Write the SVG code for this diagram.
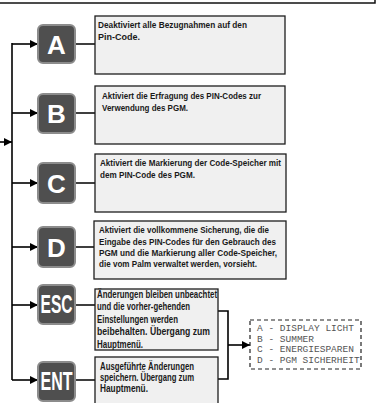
<svg xmlns="http://www.w3.org/2000/svg" width="382" height="403" viewBox="0 0 382 403">
<style>
.btn rect{fill:#4f4f4f;stroke:#8c8c8c;stroke-width:2}
.btn text{fill:#fff;font-family:"Liberation Sans",Arial,sans-serif;font-weight:bold;font-size:26px;text-anchor:middle}
.box rect{fill:#f0f0f0;stroke:#1e1e1e;stroke-width:1.3}
.box text{fill:#1a1a1a;font-family:"Liberation Sans",Arial,sans-serif;font-weight:bold;font-size:9.8px}
.big text{font-size:10.5px}
.con{fill:none;stroke:#000;stroke-width:1.6}
.mono{fill:#555;font-family:"Liberation Mono","Courier New",monospace;font-size:9.5px}
</style>
<defs>
<marker id="ah" viewBox="0 0 10 10" refX="10" refY="5" markerWidth="10" markerHeight="8" markerUnits="userSpaceOnUse" orient="auto">
<path d="M0,0 L10,5 L0,10 z" fill="#000"/>
</marker>
</defs>
<rect x="-2" y="-10" width="377" height="13" fill="none" stroke="#111" stroke-width="1.5"/>
<g id="connectors">
<path class="con" d="M12,43 V380"/>
<path class="con" d="M-2,142 H12" marker-end="url(#ah)"/>
<path class="con" d="M12,44 H38" marker-end="url(#ah)"/>
<path class="con" d="M12,113 H38" marker-end="url(#ah)"/>
<path class="con" d="M12,183 H38" marker-end="url(#ah)"/>
<path class="con" d="M12,247 H38" marker-end="url(#ah)"/>
<path class="con" d="M12,305 H38" marker-end="url(#ah)"/>
<path class="con" d="M12,380 H38" marker-end="url(#ah)"/>
<path class="con" d="M75,44 H95 M75,113 H95 M75,183 H95 M75,247 H95 M75,305 H95 M75,380 H95"/>
<path class="con" d="M218,311 H228 V379 H218"/>
<path class="con" d="M228,345 H250" marker-end="url(#ah)"/>
</g>
<g id="btnA" class="btn"><rect x="38" y="25" width="37" height="38" rx="5"/><text x="56.5" y="53.5">A</text></g>
<g id="btnB" class="btn"><rect x="38" y="94" width="37" height="39" rx="5"/><text x="56.5" y="123">B</text></g>
<g id="btnC" class="btn"><rect x="38" y="163" width="37" height="40" rx="5"/><text x="56.5" y="192.5">C</text></g>
<g id="btnD" class="btn"><rect x="38" y="227" width="37" height="40" rx="5"/><text x="56.5" y="256.5">D</text></g>
<g id="btnESC" class="btn"><rect x="38" y="285" width="37" height="39" rx="5"/><text x="56.5" y="313" font-size="22" textLength="32" lengthAdjust="spacingAndGlyphs">ESC</text></g>
<g id="btnENT" class="btn"><rect x="38" y="362" width="37" height="39" rx="5"/><text x="56.5" y="390" font-size="22" textLength="32" lengthAdjust="spacingAndGlyphs">ENT</text></g>
<g id="boxA" class="box"><rect x="95" y="16" width="190" height="58"/>
<text x="98" y="28" textLength="149" lengthAdjust="spacingAndGlyphs">Deaktiviert alle Bezugnahmen auf den</text>
<text x="98" y="40" textLength="42" lengthAdjust="spacingAndGlyphs">Pin-Code.</text></g>
<g id="boxB" class="box"><rect x="95" y="86" width="190" height="58"/>
<text x="102" y="99" textLength="159" lengthAdjust="spacingAndGlyphs">Aktiviert die Erfragung des PIN-Codes zur</text>
<text x="102" y="110.5" textLength="86" lengthAdjust="spacingAndGlyphs">Verwendung des PGM.</text></g>
<g id="boxC" class="box"><rect x="95" y="154" width="191" height="58"/>
<text x="100" y="166" textLength="181" lengthAdjust="spacingAndGlyphs">Aktiviert die Markierung der Code-Speicher mit</text>
<text x="100" y="177.5" textLength="95" lengthAdjust="spacingAndGlyphs">dem PIN-Code des PGM.</text></g>
<g id="boxD" class="box"><rect x="94" y="221" width="192" height="58"/>
<text x="99" y="233" textLength="170" lengthAdjust="spacingAndGlyphs">Aktiviert die vollkommene Sicherung, die die</text>
<text x="99" y="244.5" textLength="177" lengthAdjust="spacingAndGlyphs">Eingabe des PIN-Codes für den Gebrauch des</text>
<text x="99" y="256" textLength="178" lengthAdjust="spacingAndGlyphs">PGM und die Markierung aller Code-Speicher,</text>
<text x="99" y="267" textLength="158" lengthAdjust="spacingAndGlyphs">die vom Palm verwaltet werden, vorsieht.</text></g>
<g id="boxESC" class="box big"><rect x="95" y="289" width="123" height="61"/>
<text x="97" y="297.5" textLength="120" lengthAdjust="spacingAndGlyphs">Änderungen bleiben unbeachtet</text>
<text x="97" y="310" textLength="93" lengthAdjust="spacingAndGlyphs">und die vorher-gehenden</text>
<text x="97" y="322.5" textLength="81" lengthAdjust="spacingAndGlyphs">Einstellungen werden</text>
<text x="97" y="335" textLength="113" lengthAdjust="spacingAndGlyphs">beibehalten. Übergang zum</text>
<text x="97" y="347.5" textLength="46" lengthAdjust="spacingAndGlyphs">Hauptmenü.</text></g>
<g id="boxENT" class="box big"><rect x="95" y="357" width="123" height="60"/>
<text x="100" y="370" textLength="94" lengthAdjust="spacingAndGlyphs">Ausgeführte Änderungen</text>
<text x="100" y="381" textLength="94" lengthAdjust="spacingAndGlyphs">speichern. Übergang zum</text>
<text x="100" y="392" textLength="48" lengthAdjust="spacingAndGlyphs">Hauptmenü.</text></g>
<g id="menu">
<rect x="250" y="320" width="111" height="49" fill="#fff" stroke="#222" stroke-width="1.2" stroke-dasharray="4,3"/>
<text class="mono" x="257" y="331">A - DISPLAY LICHT</text>
<text class="mono" x="257" y="341.5">B - SUMMER</text>
<text class="mono" x="257" y="352">C - ENERGIESPAREN</text>
<text class="mono" x="257" y="362.5">D - PGM SICHERHEIT</text>
</g>
</svg>
